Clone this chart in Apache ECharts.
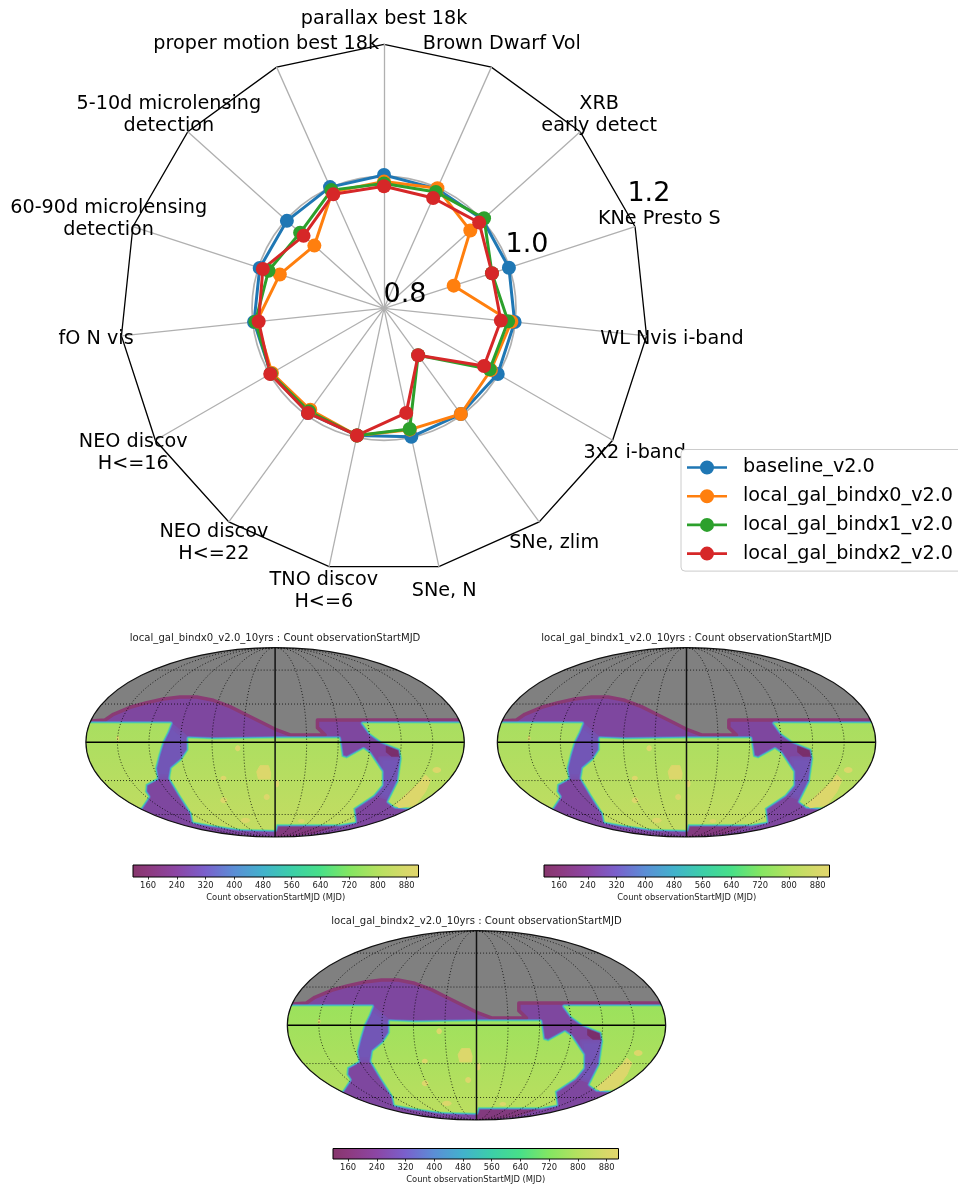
<!DOCTYPE html>
<html><head><meta charset="utf-8">
<style>html,body{margin:0;padding:0;background:#fff}#c{width:958px;height:1185px}</style>
<script src="https://cdn.jsdelivr.net/npm/echarts@6/dist/echarts.min.js"></script>
</head><body><div id="c"></div>
<script>
// Radar data, clockwise from the top spoke
const metrics = ['parallax best 18k','Brown Dwarf Vol','XRB\nearly detect','KNe Presto S','WL Nvis i-band','3x2 i-band','SNe, zlim','SNe, N','TNO discov\nH<=6','NEO discov\nH<=22','NEO discov\nH<=16','fO N vis','60-90d microlensing\ndetection','5-10d microlensing\ndetection','proper motion best 18k'];
const baseline = [1.002,0.998,1.001,0.999,0.999,0.999,0.998,0.999,0.997,0.996,0.998,0.998,0.998,0.998,1.001];
const bindx0 = [0.992,0.999,0.976,0.911,0.994,0.987,0.998,0.988,0.997,0.990,0.996,0.994,0.966,0.942,0.993];
const bindx1 = [0.989,0.993,1.004,0.972,0.989,0.985,0.888,0.987,0.997,0.993,0.998,0.996,0.984,0.971,0.996];
const bindx2 = [0.985,0.983,0.994,0.972,0.978,0.975,0.888,0.962,0.997,0.996,0.999,0.991,0.993,0.964,0.989];
const seriesNames = ['baseline_v2.0','local_gal_bindx0_v2.0','local_gal_bindx1_v2.0','local_gal_bindx2_v2.0'];
const seriesColors = ['#1f77b4','#ff7f0e','#2ca02c','#d62728'];
const radialTicks = [0.8,1.0,1.2];

// Sky map footprint outlines, in map units (half-width 567.5, half-height 284)
const skyFootprint = [[-600,64],[-553,64],[-510,67],[-485,84],[-435,105],[-385,119],[-335,130],[-285,136],[-235,136],[-185,126],[-135,107],[-85,82],[-35,57],[5,37],[45,22],[150,22],[127,44],[127,67],[600,67],[600,-300],[-600,-300]];
const wfdLeft = [[-600,57],[-313,57],[-323,32],[-338,2],[-350,-38],[-360,-78],[-355,-108],[-388,-126],[-390,-148],[-380,-163],[-402,-196],[-600,-196]];
const wfdCentre = [[-260,12],[-185,9],[5,12],[192,12],[200,-43],[215,-48],[265,-20],[283,-33],[320,-88],[320,-128],[295,-158],[235,-198],[240,-238],[195,-246],[5,-246],[0,-263],[-105,-260],[-190,-248],[-245,-238],[-250,-213],[-285,-158],[-315,-108],[-310,-78],[-280,-53],[-260,-23]];
const wfdRight = [[263,57],[600,57],[600,-196],[400,-196],[360,-193],[340,-178],[370,-118],[380,-48],[375,-20],[320,2],[285,27]];
const bandLeft = [[-313,52],[-260,7],[-260,-28],[-280,-53],[-310,-78],[-315,-103],[-355,-103],[-360,-68],[-335,2]];
const bandRight = [[315,-48],[375,-48],[365,-118],[340,-168],[310,-158],[320,-128]];
const darkPatch = [[335,-13],[375,-23],[373,-40],[350,-40],[335,-28]];
const southCap = [[5,-248],[200,-248],[115,-273],[0,-284]];
const deepFieldBig = [[-55,-88],[-45,-70],[-20,-70],[-13,-93],[-15,-110],[-50,-110]];
const deepFieldSouth = [[451,-98],[466,-113],[451,-148],[421,-188],[371,-196],[361,-188],[396,-153],[436,-118]];
const deepFieldSpots = [[-112,-18,8,9],[-155,-107,9,7],[-25,-164,9,9],[5,-124,7,11],[-472,12,4,8],[485,-83,13,9],[-154,-174,10,9],[-89,-234,14,8],[79,-236,10,6]];

// Colour scale
const cbarValues = [118,160,240,320,400,480,560,640,720,800,880,913];
const cbarColors = ['#86366c','#8d3a7e','#8c46a4','#7a60cc','#5b8ed6','#42b2cc','#3ccfa8','#48e088','#84e662','#b6e160','#d9d86a','#e2d66c'];
const cbarTicks = [160,240,320,400,480,560,640,720,800,880];

// Panel tables
const mapTitles = ['local_gal_bindx0_v2.0_10yrs : Count observationStartMJD','local_gal_bindx1_v2.0_10yrs : Count observationStartMJD','local_gal_bindx2_v2.0_10yrs : Count observationStartMJD'];
const mapCentresX = [275.1,686.5,476.5];
const mapCentresY = [742.3,742.3,1025.3];
const mapGreens = [['#a6df60','#c4dc62'],['#a6df60','#c4dc62'],['#98e25c','#bcde60']];
const cbarLefts = [133,544,333];
const cbarTops = [865,865,1148.5];

const SKY_A = 567.5, SKY_B = 284, PX_A = 189.2, PX_B = 94.7;
const CX = 384, CY = 308.3, R = 264;

function mollweide(lonDeg, latDeg){
  const lat = latDeg*Math.PI/180; let t = lat;
  for(let i=0;i<30;i++){ const d = 2*Math.cos(2*t)+2; if(Math.abs(d)<1e-9) break; t -= (2*t+Math.sin(2*t)-Math.PI*Math.sin(lat))/d; }
  return [SKY_A*(lonDeg/180)*Math.cos(t), SKY_B*Math.sin(t)];
}
const meridians = [-150,-120,-90,-60,-30,30,60,90,120,150];
const parallels = [-60,-30,30,60];

function skyRender(m){
  return function(params, api){
    const P = pts => pts.map(p => api.coord(p));
    const c0 = api.coord([0,0]), rx = api.coord([SKY_A,0])[0]-c0[0], ry = c0[1]-api.coord([0,SKY_B])[1];
    const poly = (pts, style) => ({type:'polygon', shape:{points:P(pts)}, style, silent:true});
    const grad = new echarts.graphic.LinearGradient(0, c0[1]-30, 0, c0[1]+90,
      [{offset:0,color:mapGreens[m][0]},{offset:1,color:mapGreens[m][1]}], true);
    const kids = [
      {type:'ellipse', shape:{cx:c0[0],cy:c0[1],rx,ry}, style:{fill:'#808080'}},
      poly(skyFootprint,{fill:'#7e479f',stroke:'#8a3b74',lineWidth:3.5,lineJoin:'round'}),
      poly(bandLeft,{fill:'#7059ba',stroke:'#7552b0',lineWidth:5,lineJoin:'round',opacity:0.85}),
      poly(bandRight,{fill:'#7059ba',stroke:'#7552b0',lineWidth:4,lineJoin:'round',opacity:0.8}),
      poly(darkPatch,{fill:'#7a2f6c',stroke:'#7a2f6c',lineWidth:2,lineJoin:'round'}),
      poly(southCap,{fill:'#823a7e',stroke:'#823a7e',lineWidth:1})
    ];
    [wfdLeft,wfdCentre,wfdRight].forEach(w=>{
      kids.push(poly(w,{fill:'#5b8ed6',stroke:'rgba(90,134,212,0.55)',lineWidth:4.6,lineJoin:'round'}));
      kids.push(poly(w,{fill:'#4aa8d0',stroke:'#4aa8d0',lineWidth:3,lineJoin:'round'}));
      kids.push(poly(w,{fill:grad,stroke:'#45d0a8',lineWidth:1.7,lineJoin:'round'}));
      kids.push(poly(w,{fill:grad,stroke:'rgba(120,225,120,0.8)',lineWidth:0.6,lineJoin:'round'}));
    });
    const yellow = '#dcd76b';
    kids.push(poly(deepFieldBig,{fill:yellow,stroke:yellow,lineWidth:1,lineJoin:'round'}));
    kids.push(poly(deepFieldSouth,{fill:yellow,stroke:yellow,lineWidth:1,lineJoin:'round'}));
    deepFieldSpots.forEach(s=>{
      const c = api.coord([s[0],s[1]]);
      kids.push({type:'ellipse',shape:{cx:c[0],cy:c[1],rx:s[2]/3,ry:s[3]/3},style:{fill:yellow}});
    });
    const dotted = {fill:'none',stroke:'rgba(0,0,0,0.85)',lineWidth:0.9,lineDash:[1,2]};
    meridians.forEach(lon=>{
      const pts=[]; for(let la=-90;la<=90;la+=3) pts.push(mollweide(lon,la));
      kids.push({type:'polyline',shape:{points:P(pts)},style:dotted});
    });
    parallels.forEach(lat=>{
      const pts=[]; for(let lo=-180;lo<=180;lo+=10) pts.push(mollweide(lo,lat));
      kids.push({type:'polyline',shape:{points:P(pts)},style:dotted});
    });
    kids.push({type:'line',shape:{x1:c0[0]-rx,y1:c0[1],x2:c0[0]+rx,y2:c0[1]},style:{stroke:'#000',lineWidth:1.5}});
    kids.push({type:'line',shape:{x1:c0[0],y1:c0[1]-ry,x2:c0[0],y2:c0[1]+ry},style:{stroke:'#111',lineWidth:1.5}});
    return {type:'group',children:[
      {type:'group',clipPath:{type:'ellipse',shape:{cx:c0[0],cy:c0[1],rx,ry}},children:kids},
      {type:'ellipse',shape:{cx:c0[0],cy:c0[1],rx,ry},style:{fill:'none',stroke:'#111',lineWidth:1.2}}
    ]};
  };
}
function cbarRender(params, api){
  const a = api.coord([cbarValues[0],0]), b = api.coord([cbarValues[cbarValues.length-1],1]);
  const span = cbarValues[cbarValues.length-1]-cbarValues[0];
  const stops = cbarValues.map((v,i)=>({offset:(v-cbarValues[0])/span,color:cbarColors[i]}));
  return {type:'rect',shape:{x:a[0],y:b[1],width:b[0]-a[0],height:a[1]-b[1]},
    style:{fill:new echarts.graphic.LinearGradient(0,0,1,0,stops),stroke:'#000',lineWidth:1}};
}

const grids=[],xAxes=[],yAxes=[],extra=[],titles=[];
for(let m=0;m<3;m++){
  grids.push({left:mapCentresX[m]-PX_A,top:mapCentresY[m]-PX_B,width:2*PX_A,height:2*PX_B,containLabel:false});
  xAxes.push({type:'value',gridIndex:grids.length-1,min:-SKY_A,max:SKY_A,show:false});
  yAxes.push({type:'value',gridIndex:grids.length-1,min:-SKY_B,max:SKY_B,show:false});
  extra.push({type:'custom',coordinateSystem:'cartesian2d',xAxisIndex:xAxes.length-1,yAxisIndex:yAxes.length-1,data:[[0,0]],clip:false,silent:true,renderItem:skyRender(m)});

  grids.push({left:cbarLefts[m],top:cbarTops[m],width:285.5,height:12});
  xAxes.push({type:'value',gridIndex:grids.length-1,min:cbarValues[0],max:cbarValues[cbarValues.length-1],
    splitLine:{show:false},axisLine:{show:false},
    axisTick:{show:true,length:2.5,lineStyle:{color:'#000',width:0.8},customValues:cbarTicks},
    axisLabel:{show:true,fontFamily:'DejaVu Sans',fontSize:8.4,color:'#222',margin:4.5,customValues:cbarTicks,hideOverlap:false},
    name:'Count observationStartMJD (MJD)',nameLocation:'middle',nameGap:17,
    nameTextStyle:{fontFamily:'DejaVu Sans',fontSize:8.4,color:'#222'}});
  yAxes.push({type:'value',gridIndex:grids.length-1,min:0,max:1,show:false});
  extra.push({type:'custom',coordinateSystem:'cartesian2d',xAxisIndex:xAxes.length-1,yAxisIndex:yAxes.length-1,data:[[0,0]],clip:false,silent:true,renderItem:cbarRender});

  titles.push({text:mapTitles[m],left:mapCentresX[m],top:mapCentresY[m]-108.5,textAlign:'center',padding:0,
    textStyle:{fontFamily:'DejaVu Sans',fontSize:10.1,fontWeight:'normal',color:'#222'}});
}

// radar spokes run counter-clockwise, so the clockwise lists are mirrored about the first spoke
const ccw = a => [a[0], ...a.slice(1).reverse()];
const radarSeries = [baseline,bindx0,bindx1,bindx2].map((vals,i)=>({
  type:'radar',name:seriesNames[i],radarIndex:0,symbol:'circle',symbolSize:14,silent:true,z:3,
  lineStyle:{color:seriesColors[i],width:3},itemStyle:{color:seriesColors[i]},
  data:[{name:seriesNames[i],value:ccw(vals)}]
}));
const legendIcon = 'path://M0,5.7 L40,5.7 L40,8.3 L0,8.3 Z M27,7 A7,7 0 1 1 13,7 A7,7 0 1 1 27,7 Z';

const option = {
  animation:false,
  backgroundColor:'#fff',
  title:titles,
  legend:{data:seriesNames,orient:'vertical',left:681,top:449.5,icon:legendIcon,itemWidth:40,itemHeight:14,itemGap:9.7,
    padding:[8.5,12,8,6],backgroundColor:'#fff',borderColor:'#ccc',borderWidth:1,borderRadius:4,
    textStyle:{fontFamily:'DejaVu Sans',fontSize:19.2,lineHeight:14,color:'#000',padding:[0,0,0,11]},selectedMode:false,z:20},
  radar:{center:[CX,CY],radius:R,startAngle:90,splitNumber:1,shape:'polygon',
    axisName:{color:'#000',fontFamily:'DejaVu Sans',fontSize:19.2,lineHeight:22,align:'center',verticalAlign:'middle'},axisNameGap:25.5,
    axisLine:{show:true,lineStyle:{color:'#b0b0b0',width:1.3}},
    axisTick:{show:false},
    splitLine:{show:true,lineStyle:{color:'#000',width:1.3}},
    splitArea:{show:false},
    indicator:ccw(metrics).map(n=>({name:n,min:0.8,max:1.2}))},
  polar:{center:[CX,CY],radius:R},
  angleAxis:{type:'value',polarIndex:0,min:0,max:360,startAngle:90,clockwise:true,show:false},
  radiusAxis:{type:'value',polarIndex:0,min:0.8,max:1.2,interval:0.2,axisLine:{show:false},axisTick:{show:false},axisLabel:{show:false},z:1,
    splitLine:{show:true,lineStyle:{color:['transparent','#b0b0b0','transparent'],width:1.7}}},
  grid:grids,xAxis:xAxes,yAxis:yAxes,
  series:[
    ...radarSeries,
    {type:'scatter',coordinateSystem:'polar',polarIndex:0,symbolSize:1,itemStyle:{color:'transparent',opacity:1},silent:true,z:6,
      data:radialTicks.map(v=>[v,67.5]),
      label:{show:true,position:[0,1],align:'left',verticalAlign:'bottom',fontFamily:'DejaVu Sans',fontSize:27,color:'#000',opacity:1,
        formatter:p=>p.value[0].toFixed(1)}},
    ...extra
  ]
};
const chart = echarts.init(document.getElementById('c'),null,{renderer:'canvas',width:958,height:1185});
chart.setOption(option);
</script></body></html>
